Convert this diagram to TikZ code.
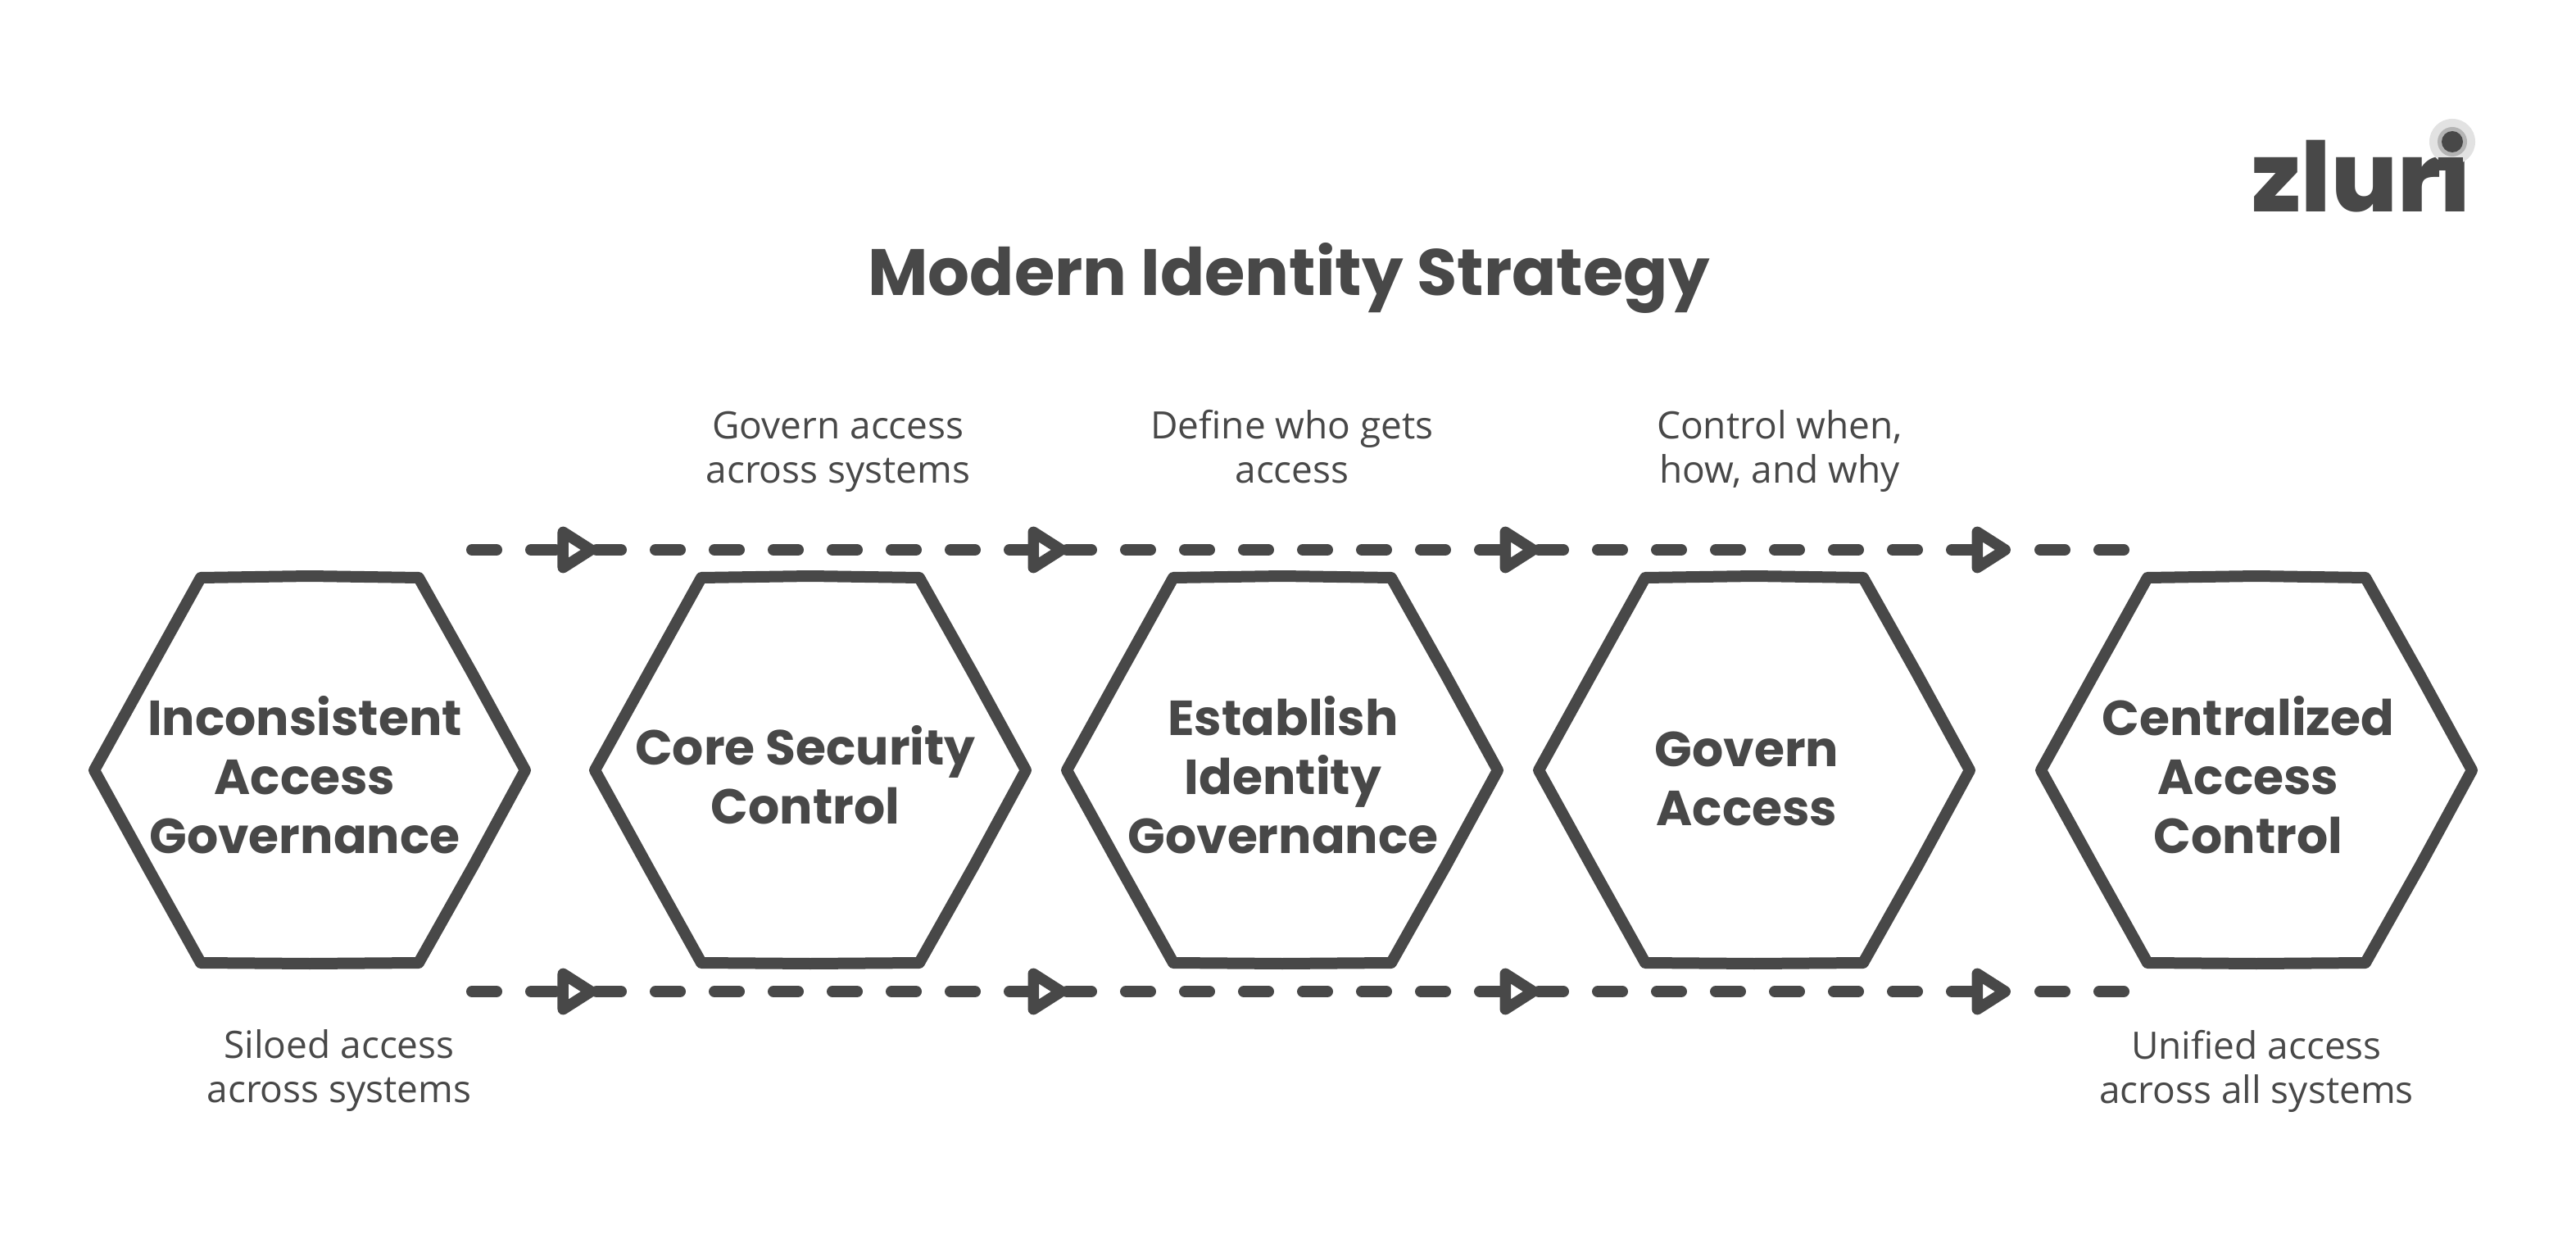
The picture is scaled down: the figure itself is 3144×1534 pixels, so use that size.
\documentclass[tikz,border=0pt]{standalone}
\usepackage{fontspec}
\usetikzlibrary{arrows.meta}
\setmainfont{Open Sans}
\newfontfamily\boldfam{Poppins}[BoldFont=* Bold]
\newfontfamily\logofam{Poppins ExtraBold}
\definecolor{ink}{HTML}{484848}
\definecolor{haloA}{HTML}{E2E2E2}
\definecolor{haloB}{HTML}{B4B4B4}
\tikzset{
  hexline/.style={draw=ink,line width=7pt,line join=round,line cap=round},
  hexlabel/.style={text=ink,align=center,inner sep=0pt,font=\boldfam\bfseries\fontsize{30}{36}\selectfont},
  note/.style={text=ink,align=center,inner sep=0pt,font=\fontsize{23}{27}\selectfont},
  titletext/.style={text=ink,inner sep=0pt,font=\boldfam\bfseries\fontsize{40}{44}\selectfont},
  flow/.style={draw=ink,line width=7pt,line cap=round,dash pattern=on 15pt off 21pt},
  flowtip/.style={-{Triangle[open,round,length=27pt,width=32pt]}},
}
\newcommand{\hexagonat}[5]{%
  \draw[hexline,shift={(#2,940)}] (-133,-235) -- (0,-237) -- (133,-235) -- (198,-119) -- (263,0) -- (200,116)
     -- (133,235) -- (0,236) -- (-133,235) -- (-197,120) -- (-263,0) -- (-199,-116) -- cycle;
  \node[hexlabel] (#1) at (#3,#4) {#5};
}
\begin{document}
\begin{tikzpicture}[x=0.5pt,y=-0.5pt]
\useasboundingbox (0,0) rectangle (3144,1534);
\fill[white] (0,0) rectangle (3144,1534);
% logo
\node[text=ink,inner sep=0pt,anchor=base,font=\logofam\fontsize{59}{59}\selectfont] (logo) at (2882,259) {zluri};
\fill[haloA] (2993,173) circle (28);
\fill[haloB] (2993,173) circle (18);
\fill[ink] (2993,173) circle (13);
\fill[ink] (2976,192) rectangle (3006,208);
% title
\node[titletext] (title) at (1573,339) {Modern Identity Strategy};
% hexagons
\hexagonat{h1}{378}{372}{946}{Inconsistent\\Access\\Governance}
\hexagonat{h2}{989}{983}{946}{Core Security\\Control}
\hexagonat{h3}{1565}{1566}{946}{Establish\\Identity\\Governance}
\hexagonat{h4}{2141}{2132}{950}{Govern\\Access}
\hexagonat{h5}{2754}{2744}{946}{Centralized\\Access\\Control}
% notes
\node[note] (n1) at (1023,551) {Govern access\\across systems};
\node[note] (n2) at (1577,545) {Define who gets\\access};
\node[note] (n3) at (2172,551) {Control when,\\how, and why};
\node[note] (n4) at (414,1307) {Siloed access\\across systems};
\node[note] (n5) at (2754,1307) {Unified access\\across all systems};
% connectors
\foreach \r/\y in {t/671,b/1210}{
  \coordinate (\r0) at (576,\y);
  \coordinate (\r1) at (728,\y);
  \coordinate (\r2) at (1302,\y);
  \coordinate (\r3) at (1878,\y);
  \coordinate (\r4) at (2454,\y);
  \coordinate (\r5) at (2592,\y);
  \draw[flow,flowtip] (\r0) -- (\r1);
  \draw[flow,flowtip] (\r1) -- (\r2);
  \draw[flow,flowtip] (\r2) -- (\r3);
  \draw[flow,flowtip] (\r3) -- (\r4);
  \draw[flow,dash phase=18pt] (\r4) -- (\r5);
}
\end{tikzpicture}
\end{document}
